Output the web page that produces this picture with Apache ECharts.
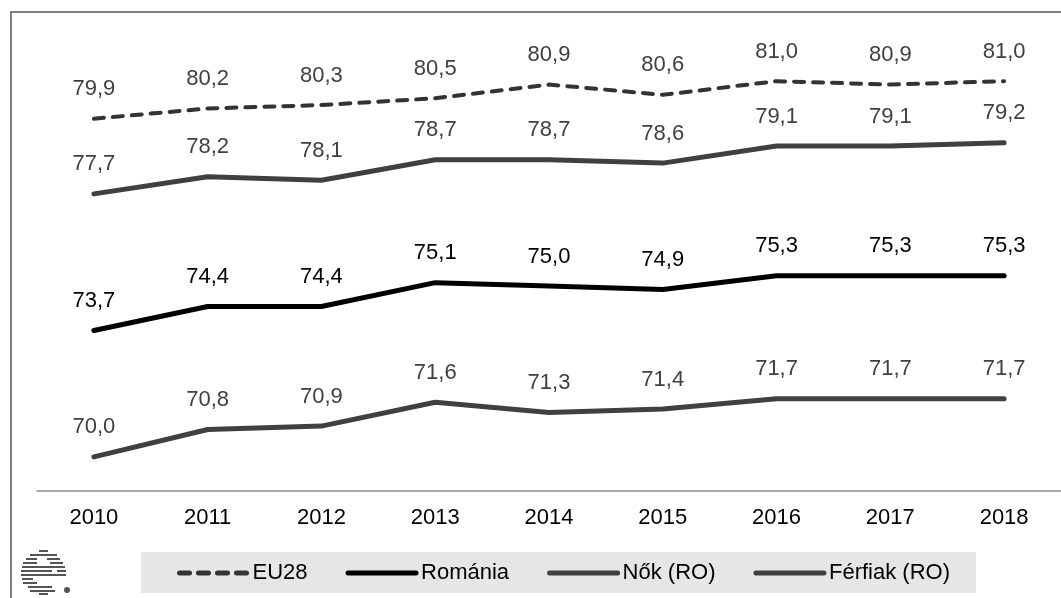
<!DOCTYPE html>
<html>
<head>
<meta charset="utf-8">
<script src="https://cdn.jsdelivr.net/npm/echarts@6/dist/echarts.min.js"></script>
<style>
  html, body { margin: 0; padding: 0; background: #fff; }
  #chart { width: 1061px; height: 598px; }
</style>
</head>
<body>
<div id="chart"></div>
<script>
const years = ["2010", "2011", "2012", "2013", "2014", "2015", "2016", "2017", "2018"];
const eu28 = [79.9, 80.2, 80.3, 80.5, 80.9, 80.6, 81.0, 80.9, 81.0];
const romania = [73.7, 74.4, 74.4, 75.1, 75.0, 74.9, 75.3, 75.3, 75.3];
const nok = [77.7, 78.2, 78.1, 78.7, 78.7, 78.6, 79.1, 79.1, 79.2];
const ferfiak = [70.0, 70.8, 70.9, 71.6, 71.3, 71.4, 71.7, 71.7, 71.7];

const font = "Liberation Sans, Arial, sans-serif";

// label formatter: decimal comma
function fmt(p) {
  return p.value.toFixed(1).replace(".", ",");
}

function lineSeries(name, data, color, width, dashed, labelColor) {
  return {
    name: name,
    type: "line",
    data: data,
    symbol: "circle",
    symbolSize: 1,
    lineStyle: {
      color: color,
      width: width,
      type: dashed ? [10, 9] : "solid",
      cap: "round",
      join: "round",
    },
    itemStyle: { color: color },
    label: {
      show: true,
      position: "top",
      distance: 18,
      formatter: fmt,
      color: labelColor,
      fontSize: 22,
      fontFamily: font,
    },
    emphasis: { disabled: true },
    animation: false,
  };
}

// little globe logo, bottom left
const logoBars = [
  [39, 550, 9], [30, 554, 27], [26, 558, 11], [47, 558, 13],
  [23, 562, 14], [50, 562, 13], [22, 566, 43], [21, 570, 31],
  [57, 570, 9], [21, 574, 45], [22, 578, 11], [23, 582, 14],
  [28, 586, 24], [30, 590, 25], [39, 593, 9],
];
const logo = logoBars.map((b) => ({
  type: "rect",
  shape: { x: b[0], y: b[1], width: b[2], height: 2 },
  style: { fill: "#555" },
}));
logo.push({
  type: "circle",
  shape: { cx: 67, cy: 590, r: 3 },
  style: { fill: "#555" },
});

const chart = echarts.init(document.getElementById("chart"));
chart.setOption({
  backgroundColor: "#fff",
  animation: false,
  grid: { left: 37, top: 47, width: 1042, height: 444 },
  xAxis: {
    type: "category",
    data: years,
    boundaryGap: true,
    axisLine: { lineStyle: { color: "#8c8c8c", width: 1.5 } },
    axisTick: { show: false },
    axisLabel: { color: "#000", fontSize: 22, fontFamily: font, margin: 16 },
  },
  yAxis: {
    type: "value",
    min: 69,
    max: 82,
    show: false,
    splitLine: { show: false },
  },
  legend: {
    left: 141,
    top: 552,
    padding: [10, 26, 9, 36],
    backgroundColor: "#e6e6e6",
    itemWidth: 68,
    itemHeight: 14,
    itemGap: 38,
    itemStyle: { opacity: 0 },
    lineStyle: { width: 5, cap: "round" },
    textStyle: { color: "#000", fontSize: 22, fontFamily: font },
    data: ["EU28", "Románia", "Nők (RO)", "Férfiak (RO)"],
  },
  graphic: [
    {
      type: "rect",
      shape: { x: 11, y: 12, width: 1070, height: 620 },
      style: { fill: "none", stroke: "#555", lineWidth: 1.5 },
      z: 100,
    },
  ].concat(logo),
  series: [
    lineSeries("EU28", eu28, "#333", 4, true, "#404040"),
    lineSeries("Románia", romania, "#000", 5, false, "#000"),
    lineSeries("Nők (RO)", nok, "#404040", 5, false, "#404040"),
    lineSeries("Férfiak (RO)", ferfiak, "#404040", 5, false, "#404040"),
  ],
});
</script>
</body>
</html>
